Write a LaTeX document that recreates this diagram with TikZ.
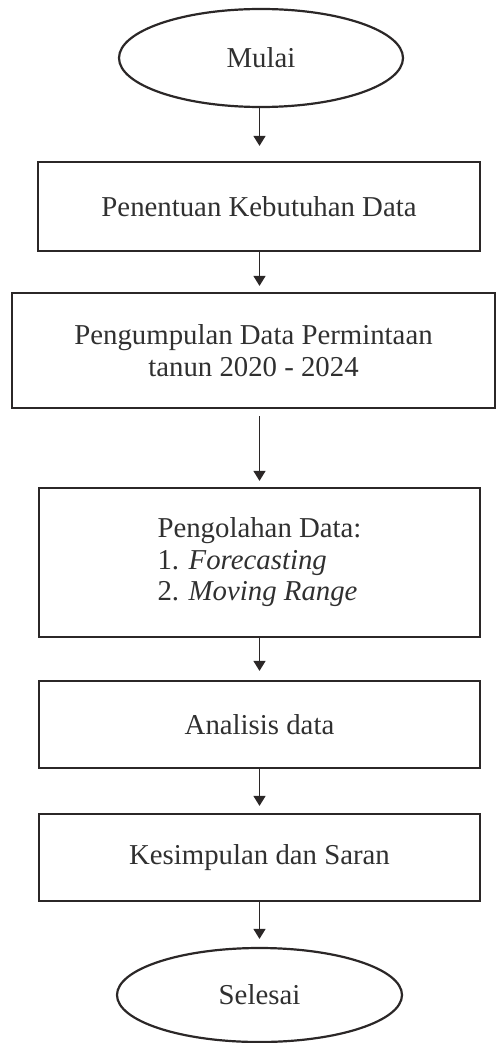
\documentclass[tikz,border=0pt]{standalone}
\usepackage{fontspec}
\setmainfont{Liberation Serif}
\usetikzlibrary{shapes.geometric,arrows.meta}
\definecolor{garis}{HTML}{2B2727}
\definecolor{teks}{HTML}{303030}

\begin{document}
\begin{tikzpicture}[x=1pt,y=-1pt,
    font=\fontsize{28.8}{31.5}\selectfont,
    terminal/.style={draw=garis,line width=2.2pt,ellipse,inner sep=0pt,text=teks},
    proses/.style={draw=garis,line width=2.2pt,rectangle,inner sep=0pt,text=teks},
    panah/.style={draw=garis,line width=1.2pt,-{Triangle[width=12pt,length=10pt]}}]
            \useasboundingbox (0,0) rectangle (496,1043);
            %% start and end
            \node[terminal,minimum width=284pt,minimum height=98pt] (mulai) at (261,58) {Mulai};
            \node[terminal,minimum width=285pt,minimum height=94pt] (selesai) at (259.5,995) {Selesai};
            %% process boxes
            \node[proses,minimum width=442pt,minimum height=89pt] (tentu) at (259,206.5) {Penentuan Kebutuhan Data};
            \node[proses,minimum width=483pt,minimum height=115pt,align=center] (kumpul) at (253.5,350.5) {Pengumpulan Data Permintaan\\tanun 2020 - 2024};
            \node[proses,minimum width=441pt,minimum height=149pt,align=left] (olah) at (259.5,562.5) {Pengolahan Data:\\1. \textit{Forecasting}\\2. \textit{Moving Range}};
            \node[proses,minimum width=441pt,minimum height=87pt] (analisis) at (259.5,724.5) {Analisis data};
            \node[proses,minimum width=441pt,minimum height=87pt] (simpul) at (259.5,857.5) {Kesimpulan dan Saran};
            % arrows
            \foreach \dari/\ke/\awal/\jarak in {mulai/tentu/0/15,tentu/kumpul/0/6,kumpul/olah/7/6,olah/analisis/0/9,analisis/simpul/0/7,simpul/selesai/0/8}{
            \draw[panah,shorten <=\awal pt,shorten >=\jarak pt] (\dari.south -| olah.north) -- (\ke.north -| olah.north);
            }
        \end{tikzpicture}
\end{document}
